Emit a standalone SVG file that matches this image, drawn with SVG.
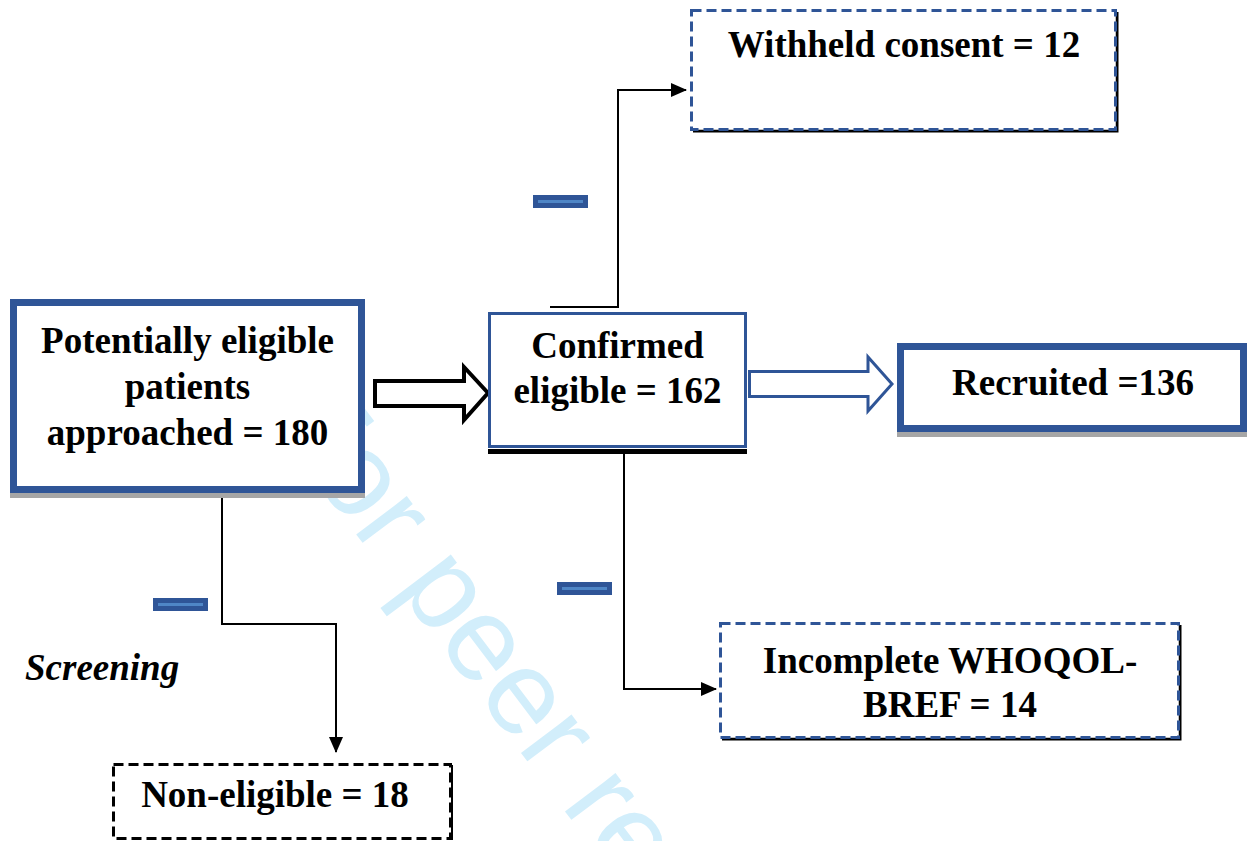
<svg xmlns="http://www.w3.org/2000/svg" width="1247" height="841" viewBox="0 0 1247 841">
<style>
.t{font-family:"Liberation Serif","Times New Roman",serif;font-weight:bold;font-size:37px;fill:#000;text-anchor:middle}
.solid{fill:#fff;stroke:#2f5597}
.dash{fill:#fff;stroke:#2f5597;stroke-width:3;stroke-dasharray:10 5}
.blk{fill:none;stroke:#000;stroke-width:2}
.wm{font-family:"Liberation Sans",Arial,sans-serif;font-size:120px;fill:#d2eefb}
</style>
<defs>
<marker id="ah" markerUnits="userSpaceOnUse" markerWidth="16" markerHeight="14" refX="15" refY="7" orient="auto">
<path d="M0,0 L16,7 L0,14 Z" fill="#000"/>
</marker>
<g id="minus"><rect x="0" y="0" width="55" height="13" fill="#2f5597"/><rect x="5" y="5" width="45" height="3" fill="#4f86c6"/></g>
</defs>
<rect width="1247" height="841" fill="#fff"/>
<text class="wm" transform="translate(267,416) rotate(53)">For peer review only</text>

<g id="connectors">
<polyline class="blk" points="550,307 618,307 618,90 686,90" marker-end="url(#ah)"/>
<polyline class="blk" points="624,453 624,689 716,689" marker-end="url(#ah)"/>
<polyline class="blk" points="222,498 222,624 336,624 336,752" marker-end="url(#ah)"/>
<polygon points="375,381 464,381 464,367 488,393 464,420 464,406 375,406" fill="#fff" stroke="#000" stroke-width="4"/>
<polygon points="749.5,371.5 868,371.5 868,357 892,384 868,411 868,396.5 749.5,396.5" fill="#fff" stroke="#2f5597" stroke-width="3"/>
<use href="#minus" x="533" y="195"/>
<use href="#minus" x="557" y="582"/>
<use href="#minus" x="153" y="598"/>
</g>

<g id="node-potential">
<rect x="10" y="493" width="355" height="5" fill="#a6a6a6"/>
<rect class="solid" x="13.5" y="302.5" width="348" height="187" stroke-width="7"/>
<text class="t" x="187.5" y="353">Potentially eligible</text>
<text class="t" x="187.5" y="399">patients</text>
<text class="t" x="187.5" y="445">approached = 180</text>
</g>

<g id="node-confirmed">
<rect x="488" y="449" width="259" height="5" fill="#000"/>
<rect class="solid" x="489.5" y="313.5" width="256" height="133" stroke-width="3"/>
<text class="t" x="617.5" y="358">Confirmed</text>
<text class="t" x="617.5" y="403">eligible = 162</text>
</g>

<g id="node-recruited">
<rect x="897" y="432" width="350" height="5" fill="#a6a6a6"/>
<rect class="solid" x="900.5" y="346.5" width="343" height="82" stroke-width="7"/>
<text class="t" x="1073" y="395">Recruited =136</text>
</g>

<g id="node-withheld">
<polyline points="1117,12 1117,131 693,131" fill="none" stroke="#000" stroke-width="3"/>
<rect class="dash" x="691.5" y="10.5" width="424" height="119"/>
<text class="t" x="904" y="57">Withheld consent = 12</text>
</g>

<g id="node-incomplete">
<polyline points="1180,625 1180,739 722,739" fill="none" stroke="#000" stroke-width="3"/>
<rect class="dash" x="720.5" y="623.5" width="458" height="114"/>
<text class="t" x="950" y="673">Incomplete WHOQOL-</text>
<text class="t" x="950" y="717">BREF = 14</text>
</g>

<g id="node-noneligible">
<rect x="113.5" y="764.5" width="337" height="74" fill="#fff" stroke="#000" stroke-width="3" stroke-dasharray="10 5"/>
<line x1="452" y1="765" x2="452" y2="840" stroke="#000" stroke-width="2"/>
<text class="t" x="275" y="807">Non-eligible = 18</text>
</g>

<g id="label-screening">
<text x="25" y="680" style="font-family:'Liberation Serif','Times New Roman',serif;font-weight:bold;font-style:italic;font-size:37px;fill:#000">Screening</text>
</g>
</svg>
